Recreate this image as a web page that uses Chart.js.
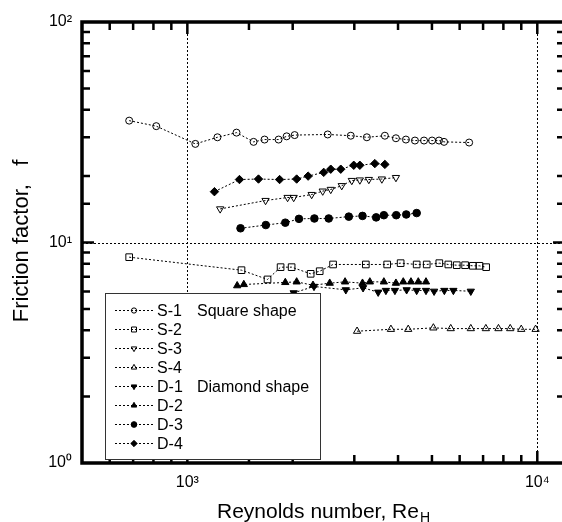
<!DOCTYPE html>
<html>
<head>
<meta charset="utf-8">
<script src="https://cdn.jsdelivr.net/npm/chart.js@4.4.0/dist/chart.umd.min.js"></script>
<style>
html,body{margin:0;padding:0;background:#fff;overflow:hidden}
#wrap{width:575px;height:522px;overflow:hidden}
</style>
</head>
<body>
<div id="wrap"><canvas id="c" width="575" height="522"></canvas></div>
<script>
// Reynolds number / friction factor
const s1Re=[682,815,1054,1219,1382,1546,1662,1823,1922,2026,2518,2931,3258,3668,3945,4213,4471,4746,5004,5239,5414,6387];
const s1F=[35.7,33.7,28.0,30.0,31.5,28.6,29.3,29.3,30.3,30.7,30.9,30.5,30.0,30.5,29.7,29.3,29.0,29.0,29.0,29.0,28.6,28.4];
const s2Re=[682,1428,1695,1847,1986,2251,2389,2609,3236,3724,4069,4522,4831,5248,5569,5888,6220,6545,6834,7143];
const s2F=[8.58,7.49,6.80,7.73,7.73,7.21,7.41,7.95,7.95,7.95,8.06,7.95,7.95,8.06,7.95,7.89,7.89,7.84,7.84,7.73];
const s3Re=[1241,1673,1934,2013,2266,2437,2569,2762,2951,3111,3301,3596,3945];
const s3F=[14.2,15.5,16.0,16.0,16.5,17.1,17.4,18.1,19.1,19.2,19.3,19.4,19.7];
const s4Re=[3055,3817,4277,5047,5658,6457,7129,7745,8368,8998,9888];
const s4F=[3.96,4.04,4.04,4.10,4.07,4.07,4.07,4.07,4.07,4.04,4.04];
const d1Re=[2013,2301,2837,3178,3510,3693,3919,4233,4522,4808,5071,5425,5757,6457];
const d1F=[5.91,6.32,6.10,6.23,5.95,6.06,6.06,6.10,6.06,6.06,6.01,6.06,6.06,6.01];
const d2Re=[1388,1450,1905,2053,2286,2552,2823,3166,3323,3644,3945,4140,4355,4570,4808];
const d2F=[6.37,6.45,6.59,6.63,6.40,6.54,6.63,6.54,6.63,6.63,6.54,6.63,6.63,6.63,6.63];
const d3Re=[1419,1676,1905,2084,2307,2535,2893,3166,3464,3644,3953,4222,4522];
const d3F=[11.6,12.0,12.3,12.8,12.85,12.85,13.1,13.2,13.0,13.3,13.3,13.4,13.6];
const d4Re=[1195,1409,1597,1835,2053,2214,2453,2569,2744,2989,3111,3434,3668];
const d4F=[17.0,19.3,19.4,19.3,19.4,20.0,20.8,21.5,21.5,22.4,22.4,22.8,22.6];

const names=["S-1","S-2","S-3","S-4","D-1","D-2","D-3","D-4"];
const notes=["Square shape","","","","Diamond shape","","",""];
const xTickLabels={1000:"10³",10000:"10⁴"};
const yTickLabels={1:"10⁰",10:"10¹",100:"10²"};

const FONT="'Liberation Sans', Arial, Helvetica, sans-serif";

function pts(xs,ys){return xs.map((x,i)=>({x:x,y:ys[i]}));}
function ds(label,xs,ys,style,filled,radius,rot){
  return {label:label,data:pts(xs,ys),showLine:true,
    borderColor:"#000",borderWidth:1,borderDash:[2,2],
    pointStyle:style,pointRotation:rot||0,pointRadius:radius,pointHoverRadius:radius,
    pointBorderColor:"#000",pointBorderWidth:1,
    pointBackgroundColor:filled?"#000":"rgba(0,0,0,0)",
    fill:false,tension:0};
}

const datasets=[
  ds("S-1",s1Re,s1F,"circle",false,3.5),
  ds("S-2",s2Re,s2F,"rect",false,4.7),
  ds("S-3",s3Re,s3F,"triangle",false,4.2,180),
  ds("S-4",s4Re,s4F,"triangle",false,4.2),
  ds("D-1",d1Re,d1F,"triangle",true,4.2,180),
  ds("D-2",d2Re,d2F,"triangle",true,4.2),
  ds("D-3",d3Re,d3F,"circle",true,3.8),
  ds("D-4",d4Re,d4F,"rectRot",true,4.2)
];

function isPow10(v){const l=Math.log10(v);return Math.abs(l-Math.round(l))<1e-6;}

const framePlugin={
  id:"frame",
  beforeDatasetsDraw(chart){
    const {ctx,chartArea:a,scales:{x,y}}=chart;
    ctx.save();
    ctx.strokeStyle="#000";ctx.lineWidth=1;ctx.setLineDash([2,2]);
    [1000,10000].forEach(v=>{const px=Math.round(x.getPixelForValue(v))+0.5;
      ctx.beginPath();ctx.moveTo(px,a.top);ctx.lineTo(px,a.bottom);ctx.stroke();});
    [10].forEach(v=>{const py=Math.round(y.getPixelForValue(v))+0.5;
      ctx.beginPath();ctx.moveTo(a.left,py);ctx.lineTo(a.right,py);ctx.stroke();});
    ctx.restore();
  },
  afterDatasetsDraw(chart){
    const {ctx,chartArea:a,scales:{x,y}}=chart;
    ctx.save();
    ctx.strokeStyle="#000";ctx.setLineDash([]);
    ctx.lineWidth=2.5;
    x.ticks.forEach(t=>{
      const v=t.value; if(v<=x.min||v>=x.max) return;
      const px=x.getPixelForValue(v); const L=isPow10(v)?12:8;
      ctx.beginPath();ctx.moveTo(px,a.bottom);ctx.lineTo(px,a.bottom-L);
      ctx.moveTo(px,a.top);ctx.lineTo(px,a.top+L);ctx.stroke();
    });
    y.ticks.forEach(t=>{
      const v=t.value; if(v<=y.min||v>=y.max) return;
      const py=y.getPixelForValue(v); const L=isPow10(v)?12:8;
      ctx.beginPath();ctx.moveTo(a.left,py);ctx.lineTo(a.left+L,py);
      ctx.moveTo(a.right,py);ctx.lineTo(a.right-L,py);ctx.stroke();
    });
    // left, top and bottom edges of the frame (right edge lies off the page)
    ctx.lineWidth=3.5;ctx.lineCap="square";
    ctx.beginPath();
    ctx.moveTo(a.right+4,a.top);ctx.lineTo(a.left,a.top);
    ctx.lineTo(a.left,a.bottom);ctx.lineTo(a.right+4,a.bottom);
    ctx.stroke();
    ctx.restore();
  },
  afterDraw(chart){
    const {ctx}=chart;
    ctx.save();
    // legend box
    const bx=105,by=293,bw=215,bh=166;
    ctx.fillStyle="#fff";ctx.fillRect(bx,by,bw,bh);
    ctx.strokeStyle="#333";ctx.lineWidth=1;ctx.strokeRect(bx+0.5,by+0.5,bw,bh);
    ctx.font="16px "+FONT;ctx.textBaseline="middle";ctx.fillStyle="#000";
    chart.data.datasets.forEach((d,i)=>{
      const yy=310.5+19*i;
      ctx.strokeStyle="#000";ctx.lineWidth=1;ctx.setLineDash([2,2]);
      ctx.beginPath();ctx.moveTo(115,yy);ctx.lineTo(155,yy);ctx.stroke();
      ctx.setLineDash([]);
      ctx.fillStyle=d.pointBackgroundColor;
      Chart.helpers.drawPoint(ctx,{pointStyle:d.pointStyle,rotation:d.pointRotation,radius:d.pointRadius*0.75,borderWidth:1},134,yy);
      ctx.fillStyle="#000";
      ctx.fillText(names[i],157,yy+1);
      if(notes[i]) ctx.fillText(notes[i],197,yy+1);
    });
    // axis titles
    ctx.fillStyle="#000";ctx.textBaseline="alphabetic";
    ctx.font="21px "+FONT;
    const t1="Reynolds number, Re";
    ctx.fillText(t1,217,518);
    const w1=ctx.measureText(t1).width;
    ctx.font="14px "+FONT;
    ctx.fillText("H",217+w1+1,522);
    ctx.translate(28,241);ctx.rotate(-Math.PI/2);
    ctx.font="22px "+FONT;ctx.textAlign="center";
    ctx.fillText("Friction factor,   f",0,0);
    ctx.restore();
  }
};

new Chart(document.getElementById("c"),{
  type:"line",
  data:{datasets:datasets},
  options:{
    responsive:false,animation:false,devicePixelRatio:1,
    layout:{padding:{top:22,right:0,left:0,bottom:0}},
    plugins:{legend:{display:false},tooltip:{enabled:false}},
    scales:{
      x:{type:"logarithmic",min:500,max:12000,
        grid:{display:false,drawTicks:false},border:{display:false},
        ticks:{autoSkip:false,maxRotation:0,padding:10,color:"#000",font:{size:16,family:FONT},
          callback:v=>xTickLabels[v]||""},
        afterFit:s=>{s.height=59;}},
      y:{type:"logarithmic",min:1,max:100,
        grid:{display:false,drawTicks:false},border:{display:false},
        ticks:{autoSkip:false,padding:10,color:"#000",font:{size:16,family:FONT},
          callback:v=>yTickLabels[v]||""},
        afterFit:s=>{s.width=82;}}
    }
  },
  plugins:[framePlugin]
});
</script>
</body>
</html>
